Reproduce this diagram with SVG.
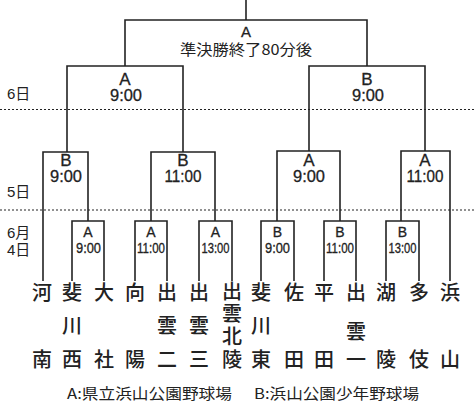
<svg xmlns="http://www.w3.org/2000/svg" width="474" height="404" viewBox="0 0 474 404">
<style>
.ln{stroke:#222;stroke-width:1.6;fill:none}
.dot{stroke:#222;stroke-width:1.2;stroke-dasharray:2 2;fill:none}
.lat{font-family:"Liberation Sans",Arial,sans-serif;fill:#222;text-anchor:middle;stroke:#222;stroke-width:0.3}
.big{font-size:17px}
.sm{font-size:14px}
.jp{font-family:"Noto Sans CJK JP","Noto Sans",sans-serif;fill:#222;text-anchor:middle;font-size:20px;font-weight:500}
.lab{font-family:"Liberation Sans","Noto Sans CJK JP",sans-serif;fill:#222;font-size:15px}
.leg{font-family:"Noto Sans CJK JP","Liberation Sans",sans-serif;fill:#222;font-size:15px}
</style>
<rect width="474" height="404" fill="#fff"/>
<g id="dates">
<line class="dot" x1="0" y1="109.5" x2="474" y2="109.5"/>
<line class="dot" x1="0" y1="210" x2="474" y2="210"/>
<text class="lab" x="7" y="99">6日</text>
<text class="lab" x="7" y="197">5日</text>
<text class="lab" x="7" y="238">6月</text>
<text class="lab" x="7" y="255">4日</text>
</g>
<g id="connectors">
<path class="ln" d="M246,0V20M125,66V20H367V66"/>
<path class="ln" d="M67,152V66H183V152"/>
<path class="ln" d="M309,151V66H425V151"/>
<path class="ln" d="M43,281V152H88V221"/>
<path class="ln" d="M72,281V221H104V281"/>
<path class="ln" d="M151,221V152H215V221"/>
<path class="ln" d="M135,281V221H167V281"/>
<path class="ln" d="M199,281V221H232V281"/>
<path class="ln" d="M277,221V151H340V221"/>
<path class="ln" d="M261,281V221H294V281"/>
<path class="ln" d="M324,281V221H356V281"/>
<path class="ln" d="M401,221V151H450V281"/>
<path class="ln" d="M386,281V221H419V281"/>
</g>
<g id="final">
<text class="lat" x="246" y="37" font-size="15">A</text>
<text x="246" y="55" font-size="15" textLength="132" lengthAdjust="spacingAndGlyphs" style="font-family:'Noto Sans CJK JP','Liberation Sans',sans-serif;fill:#222;text-anchor:middle">準決勝終了80分後</text>
</g>
<g id="sf1"><text class="lat big" x="125" y="85">A</text><text class="lat big" x="126" y="101" textLength="32" lengthAdjust="spacingAndGlyphs">9:00</text></g>
<g id="sf2"><text class="lat big" x="367" y="85">B</text><text class="lat big" x="368" y="101" textLength="32" lengthAdjust="spacingAndGlyphs">9:00</text></g>
<g id="qf1"><text class="lat big" x="66" y="166">B</text><text class="lat big" x="66" y="182" textLength="32" lengthAdjust="spacingAndGlyphs">9:00</text></g>
<g id="qf2"><text class="lat big" x="183" y="166">B</text><text class="lat big" x="183" y="182" textLength="37" lengthAdjust="spacingAndGlyphs">11:00</text></g>
<g id="qf3"><text class="lat big" x="309" y="166">A</text><text class="lat big" x="309" y="182" textLength="32" lengthAdjust="spacingAndGlyphs">9:00</text></g>
<g id="qf4"><text class="lat big" x="425" y="166">A</text><text class="lat big" x="425" y="182" textLength="37" lengthAdjust="spacingAndGlyphs">11:00</text></g>
<g id="r1a"><text class="lat sm" x="88" y="237">A</text><text class="lat sm" x="88.5" y="253" textLength="25" lengthAdjust="spacingAndGlyphs">9:00</text></g>
<g id="r1b"><text class="lat sm" x="151" y="237">A</text><text class="lat sm" x="151" y="253" textLength="28" lengthAdjust="spacingAndGlyphs">11:00</text></g>
<g id="r1c"><text class="lat sm" x="215.5" y="237">A</text><text class="lat sm" x="215.5" y="253" textLength="28" lengthAdjust="spacingAndGlyphs">13:00</text></g>
<g id="r1d"><text class="lat sm" x="277.5" y="237">B</text><text class="lat sm" x="277.5" y="253" textLength="25" lengthAdjust="spacingAndGlyphs">9:00</text></g>
<g id="r1e"><text class="lat sm" x="340" y="237">B</text><text class="lat sm" x="340" y="253" textLength="28" lengthAdjust="spacingAndGlyphs">11:00</text></g>
<g id="r1f"><text class="lat sm" x="402.5" y="237">B</text><text class="lat sm" x="402.5" y="253" textLength="28" lengthAdjust="spacingAndGlyphs">13:00</text></g>
<g id="t1"><text class="jp" x="42" y="300">河</text><text class="jp" x="42" y="367">南</text></g>
<g id="t2"><text class="jp" x="72" y="300">斐</text><text class="jp" x="72" y="333">川</text><text class="jp" x="72" y="367">西</text></g>
<g id="t3"><text class="jp" x="104" y="300">大</text><text class="jp" x="104" y="367">社</text></g>
<g id="t4"><text class="jp" x="135" y="300">向</text><text class="jp" x="135" y="367">陽</text></g>
<g id="t5"><text class="jp" x="167" y="300">出</text><text class="jp" x="167" y="333">雲</text><text class="jp" x="167" y="367">二</text></g>
<g id="t6"><text class="jp" x="199" y="300">出</text><text class="jp" x="199" y="333">雲</text><text class="jp" x="199" y="367">三</text></g>
<g id="t7"><text class="jp" x="232" y="299">出</text><text class="jp" x="232" y="321">雲</text><text class="jp" x="232" y="344">北</text><text class="jp" x="232" y="367">陵</text></g>
<g id="t8"><text class="jp" x="261" y="300">斐</text><text class="jp" x="261" y="333">川</text><text class="jp" x="261" y="367">東</text></g>
<g id="t9"><text class="jp" x="294" y="300">佐</text><text class="jp" x="294" y="367">田</text></g>
<g id="t10"><text class="jp" x="324" y="300">平</text><text class="jp" x="324" y="367">田</text></g>
<g id="t11"><text class="jp" x="356" y="300">出</text><text class="jp" x="356" y="339">雲</text><text class="jp" x="356" y="367">一</text></g>
<g id="t12"><text class="jp" x="386" y="300">湖</text><text class="jp" x="386" y="367">陵</text></g>
<g id="t13"><text class="jp" x="419" y="300">多</text><text class="jp" x="419" y="367">伎</text></g>
<g id="t14"><text class="jp" x="450" y="300">浜</text><text class="jp" x="450" y="367">山</text></g>
<g id="legend">
<text class="leg" x="67" y="399" textLength="165" lengthAdjust="spacingAndGlyphs">A:県立浜山公園野球場</text>
<text class="leg" x="254" y="399" textLength="165" lengthAdjust="spacingAndGlyphs">B:浜山公園少年野球場</text>
</g>
</svg>
